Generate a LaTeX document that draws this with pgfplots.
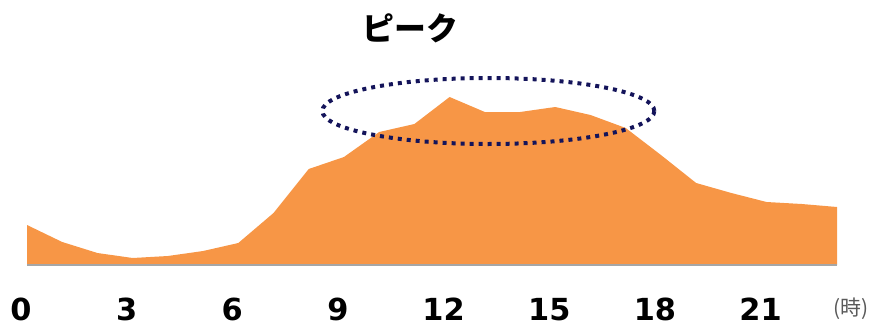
\documentclass[border=0pt]{standalone}
\usepackage{fontspec}
\setmainfont{DejaVu Sans}
\newfontfamily\cjk{Noto Sans CJK JP}
\usepackage{pgfplots}
\pgfplotsset{compat=1.18}
\definecolor{peakorange}{HTML}{F79646}
\definecolor{ovalnavy}{HTML}{14145A}
\definecolor{basegray}{HTML}{A6A6A6}
\definecolor{unitgray}{HTML}{595959}

\begin{document}
\begin{tikzpicture}[x=1bp,y=1bp]
\useasboundingbox (0,0) rectangle (877,329);
\begin{axis}[
  at={(27bp,64bp)}, anchor=origin,
  scale only axis, width=810bp, height=200bp,
  xmin=0, xmax=23, ymin=0, ymax=200,
  axis x line=bottom, axis y line=none,
  axis line style={basegray, line width=1.5bp, -},
  axis on top,
  xtick={0,3,6,9,12,15,18,21},
  major tick length=0pt,
  /pgf/number format/assume math mode=true,
  xticklabel style={font=\fontsize{30.5}{32}\selectfont\bfseries, anchor=north,
    inner sep=0pt, yshift=-33bp, xshift=-6bp},
  ytick=\empty,
  clip=false,
]
\addplot[draw=none, fill=peakorange] coordinates {
  (0,40) (1,23) (2,12) (3,7) (4,9) (5,14) (6,22) (7,52) (8,96) (9,108)
  (10,133) (11,141) (12,168) (13,153) (14,153) (15,158) (16,150) (17,137)
  (18,110) (19,82) (20,72) (21,63) (22,61) (23,58)
} \closedcycle;
\draw[ovalnavy, line width=4bp, dash pattern=on 4bp off 5bp]
  (axis cs:13.1,154) ellipse [x radius=166bp, y radius=33bp];
\node[font=\cjk\fontsize{32}{34}\selectfont\bfseries] at (axis cs:10.88,237) {ピーク};
\node[font=\cjk\fontsize{21}{22}\selectfont, text=unitgray] at (axis cs:23.4,-44) {(時)};
\end{axis}
\end{tikzpicture}
\end{document}
